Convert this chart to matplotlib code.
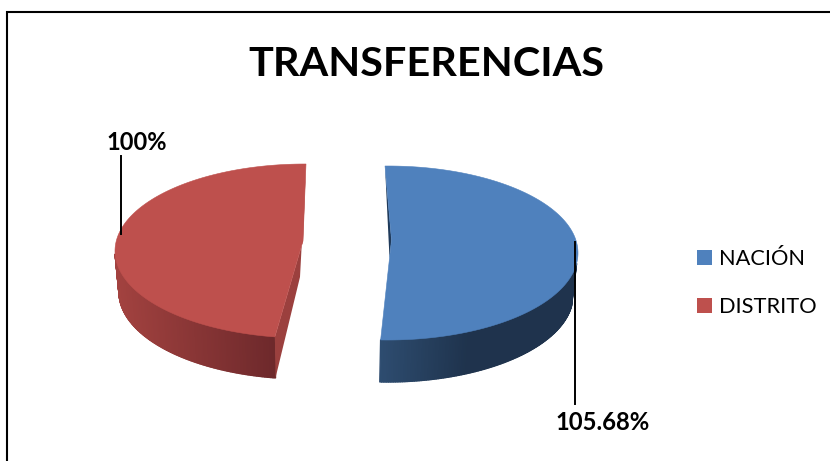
import numpy as np
import matplotlib
matplotlib.use("Agg")
import matplotlib.pyplot as plt
from matplotlib.patches import Polygon, Rectangle
from matplotlib.collections import PolyCollection

# ------------------- DATA ------------------- #
title = "TRANSFERENCIAS"
categories = ["NACIÓN", "DISTRITO"]
values = [105.68, 100]
labels = ["105.68%", "100%"]

# ------------------- STYLE ------------------- #
top_colors = ["#4F81BD", "#BE504D"]
cut_colors = ["#1F3A5A", "#9B403E"]
wall_left = [(0.18, 0.30, 0.44), (0.64, 0.26, 0.25)]
wall_right = [(0.12, 0.20, 0.30), (0.43, 0.16, 0.17)]

plt.rcParams["font.family"] = ["Lato", "DejaVu Sans"]


def arc(cx, cy, rx, ry, a0, a1, n=160):
    # angles clockwise from 12 o'clock, squashed into the tilted pie
    t = np.radians(np.linspace(a0, a1, n))
    return np.column_stack([cx + rx * np.sin(t), cy - ry * np.cos(t)])


def draw_wall(ax, upper, lower, c0, c1, ramp=1.0):
    # side of the pie as thin quads, shaded from left to right
    xs = upper[:, 0]
    f = np.clip((xs - xs.min()) / (xs.max() - xs.min()) * ramp, 0, 1)
    quads, cols = [], []
    for i in range(len(upper) - 1):
        quads.append([upper[i], upper[i + 1], lower[i + 1], lower[i]])
        m = (f[i] + f[i + 1]) / 2
        cols.append(tuple(np.array(c0) * (1 - m) + np.array(c1) * m))
    ax.add_collection(PolyCollection(quads, facecolors=cols, edgecolors=cols, linewidths=1.0, zorder=2))


fig = plt.figure(figsize=(8.3, 4.61), dpi=100)
ax = fig.add_axes([0, 0, 1, 1])
ax.set_xlim(0, 830)
ax.set_ylim(461, 0)
ax.axis("off")

# frame, only top and left show in the crop
ax.plot([7, 7, 830], [461, 12.5, 12.5], color="black", lw=1.5, solid_joinstyle="miter", zorder=1)

ax.text(426, 65, title, fontsize=29.8, fontweight="bold", ha="center", va="center", color="black")

shares = np.array(values) / sum(values) * 360

# ------------------- NACION SLICE ------------------- #
start = -0.9
end = start + shares[0] * 0.99
top_arc = arc(388, 253, 190, 87, start, end)
apex = (391.5, 240)
upper = arc(388, 253, 190, 87, 97, end)
lower = arc(387, 295, 186, 87, 97, end)
draw_wall(ax, upper[::-1], lower[::-1], wall_left[0], wall_right[0], ramp=2.2)
ax.add_patch(Polygon([top_arc[0], apex, (389.5, 258)], closed=True, fc=cut_colors[0], ec="none", zorder=3))
ax.add_patch(Polygon(np.vstack([top_arc, [apex]]), closed=True, fc=top_colors[0], ec=top_colors[0], lw=0.4, zorder=4))

# ------------------- DISTRITO SLICE ------------------- #
end = 360.3
start = end - shares[1] * 0.978
top_arc = arc(305, 251, 190, 87, start, end)
apex = (303, 241)
upper = arc(305, 251, 190, 87, start, 268)
lower = arc(305, 292, 186, 87, start, 268)
draw_wall(ax, upper[::-1], lower[::-1], wall_left[1], wall_right[1])
ax.add_patch(Polygon([top_arc[-1], (300, 277), lower[0], top_arc[0], apex], closed=True, fc=cut_colors[1], ec="none", zorder=3))
ax.add_patch(Polygon(np.vstack([top_arc, [apex]]), closed=True, fc=top_colors[1], ec=top_colors[1], lw=0.4, zorder=4))

# ------------------- LEADERS AND LABELS ------------------- #
ax.plot([574.5, 574.5], [242, 404], color="black", lw=1.4, zorder=5)
ax.plot([120.5, 120.5], [156, 234], color="black", lw=1.4, zorder=5)
ax.text(603, 422, labels[0], fontsize=17.2, fontweight="bold", ha="center", va="center")
ax.text(136.5, 142.5, labels[1], fontsize=17, fontweight="bold", ha="center", va="center")

# ------------------- LEGEND ------------------- #
for name, color, y in zip(categories, top_colors, [257, 305]):
    ax.add_patch(Rectangle((697, y - 7.5), 15, 15, fc=color, ec="none"))
    ax.text(719, y + 1.5, name, fontsize=15.7, ha="left", va="center")

fig.savefig("out.png", dpi=100)
